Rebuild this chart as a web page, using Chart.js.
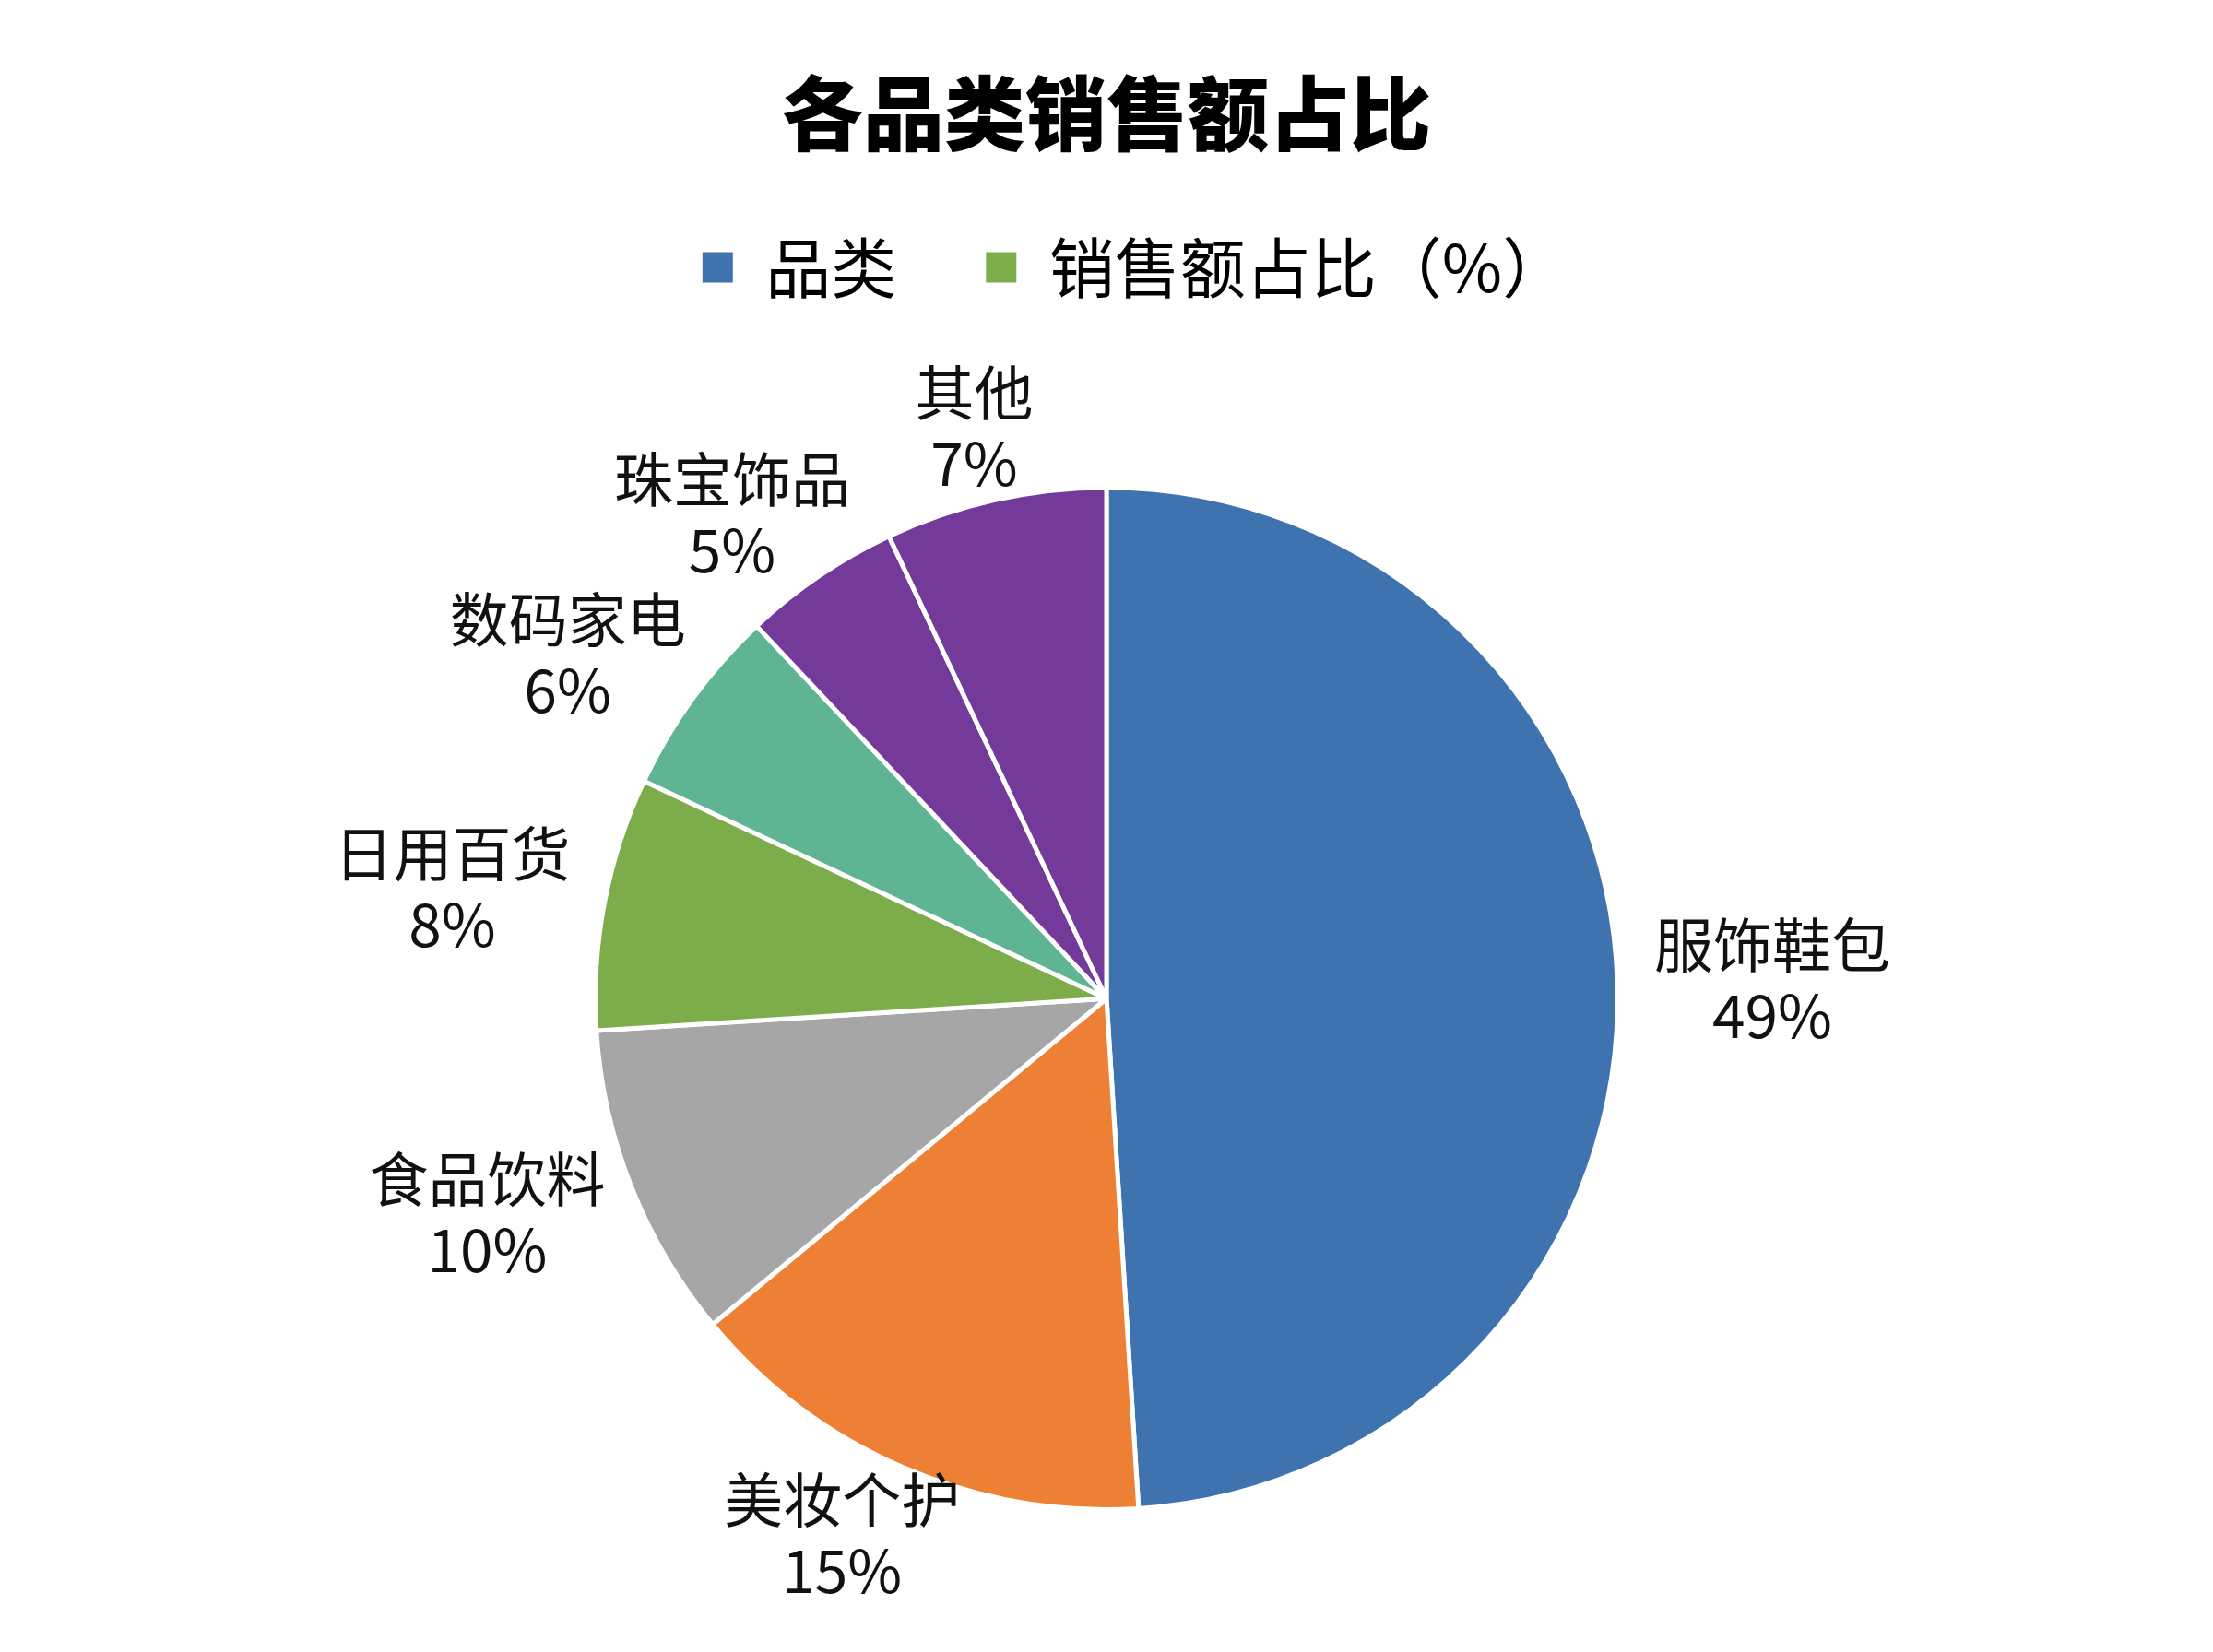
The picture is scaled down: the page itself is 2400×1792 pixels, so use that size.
<!DOCTYPE html>
<html>
<head>
<meta charset="utf-8">
<script src="https://cdn.jsdelivr.net/npm/chart.js@4/dist/chart.umd.min.js"></script>
<style>
    html, body { margin: 0; padding: 0; background: #ffffff; }
    #wrap { width: 2400px; height: 1792px; }
</style>
</head>
<body>
<div id="wrap"><canvas id="pie" width="2400" height="1792"></canvas></div>
<script>
// Chart data
const CATEGORIES = ['服饰鞋包', '美妆个护', '食品饮料', '日用百货', '数码家电', '珠宝饰品', '其他'];
const SHARES = [49, 15, 10, 8, 6, 5, 7];
const LEGEND_TEXTS = ['品类', '销售额占比（%）'];

// Colour palette
const COLORS = {
    blue: '#3E73AF',
    orange: '#EE8035',
    gray: '#A6A6A6',
    green: '#7DAD4B',
    teal: '#5FB494',
    purple: '#743A9A',
    text: '#111111'
};
const SLICE_COLORS = [COLORS.blue, COLORS.orange, COLORS.gray, COLORS.green, COLORS.teal, COLORS.purple, COLORS.purple];
const LEGEND_COLORS = [COLORS.blue, COLORS.green];

const CJK = '"Noto Sans CJK SC", "Noto Sans", sans-serif';

/**
 * Draw "name / value%" labels outside each slice.
 * The label box sits just off the rim in the direction of the slice middle.
 */
const outsideLabels = {
    id: 'outsideLabels',
    afterDatasetsDraw(chart) {
        const ctx = chart.ctx;
        const meta = chart.getDatasetMeta(0);
        const fontSize = 64;
        const lineGap = 77;
        const gapX = 40;
        const gapY = 3;
        ctx.save();
        ctx.font = fontSize + 'px ' + CJK;
        ctx.fillStyle = COLORS.text;
        ctx.textAlign = 'center';
        ctx.textBaseline = 'middle';
        meta.data.forEach((arc, i) => {
            const p = arc.getProps(['x', 'y', 'startAngle', 'endAngle', 'outerRadius'], true);
            const mid = (p.startAngle + p.endAngle) / 2;
            const lines = [CATEGORIES[i], SHARES[i] + '%'];
            const hw = Math.max(...lines.map(t => ctx.measureText(t).width)) / 2;
            const hh = lineGap;
            const cx = p.x + (p.outerRadius + gapX + hw) * Math.cos(mid);
            const cy = p.y + (p.outerRadius + gapY + hh) * Math.sin(mid);
            ctx.fillText(lines[0], cx, cy - lineGap / 2);
            ctx.fillText(lines[1], cx, cy + lineGap / 2);
        });
        ctx.restore();
    }
};

/**
 * Chart.js counts one trailing padding in the legend row width,
 * nudge the legend back so the row is centred
 */
const centreLegend = {
    id: 'centreLegend',
    afterLayout(chart) {
        const shift = 31;
        chart.legend.left += shift;
        chart.legend.right += shift;
    }
};

new Chart(document.getElementById('pie'), {
    type: 'pie',
    data: {
        labels: CATEGORIES,
        datasets: [{
            data: SHARES,
            backgroundColor: SLICE_COLORS,
            borderColor: '#ffffff',
            borderWidth: 5
        }]
    },
    options: {
        responsive: false,
        devicePixelRatio: 1,
        animation: false,
        layout: {
            padding: { top: 0, bottom: 152, left: 0, right: 0 }
        },
        plugins: {
            title: {
                display: true,
                text: '各品类销售额占比',
                color: '#000000',
                font: { family: CJK, size: 88, weight: '900', lineHeight: 0.8 },
                padding: { top: 87, bottom: 0 }
            },
            legend: {
                position: 'top',
                onClick: null,
                labels: {
                    color: COLORS.text,
                    boxWidth: 33,
                    boxHeight: 33,
                    padding: 97,
                    font: { family: CJK, size: 71 },
                    generateLabels: () => LEGEND_TEXTS.map((t, i) => ({
                        text: t,
                        fillStyle: LEGEND_COLORS[i],
                        strokeStyle: LEGEND_COLORS[i],
                        lineWidth: 0,
                        hidden: false,
                        index: i
                    }))
                }
            },
            // spacer below the legend
            subtitle: {
                display: true,
                text: ' ',
                weight: 500,
                font: { size: 10, lineHeight: 1.0 },
                padding: { top: 0, bottom: 181 }
            },
            tooltip: { enabled: false }
        }
    },
    plugins: [outsideLabels, centreLegend]
});
</script>
</body>
</html>
